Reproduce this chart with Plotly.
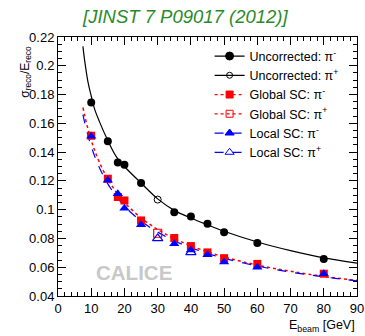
import plotly.graph_objects as go

# ---- data points ----
E_pts = [10, 15, 18, 20, 25, 35, 40, 45, 50, 60, 80]
uncorr_minus = [0.1745, 0.1475, 0.1328, 0.1312, 0.1185, 0.0982, 0.0953, 0.0902, 0.0843, 0.0768, 0.0657]
global_minus = [0.1514, 0.1215, 0.1088, 0.1064, 0.0925, 0.0803, 0.0747, 0.0703, 0.0663, 0.0623, 0.0555]
local_minus = [0.1510, 0.1205, 0.1110, 0.1010, 0.0896, 0.0763, 0.0720, 0.0687, 0.0636, 0.0600, 0.0555]

E_plus_unc = [30]
uncorr_plus = [0.1070]
E_plus_glob = [30]
global_plus = [0.0836]
E_plus_loc = [30, 40]
local_plus = [0.0800, 0.0703]

# ---- fit curves ----
E_fit = [7.5, 8, 9, 10, 11, 12.5, 15, 17.5, 20, 25, 30, 35, 40, 45, 50, 60, 70, 80, 90]
fit_uncorr = [0.2135, 0.2040, 0.1890, 0.1790, 0.1700, 0.1610, 0.1480, 0.1370, 0.1300, 0.1185, 0.1075,
              0.0995, 0.0942, 0.0895, 0.0850, 0.0775, 0.0715, 0.0665, 0.0628]
fit_global = [0.1710, 0.1656, 0.1563, 0.1482, 0.1414, 0.1327, 0.1212, 0.1123, 0.1050, 0.0943, 0.0862,
              0.0799, 0.0749, 0.0707, 0.0672, 0.0615, 0.0572, 0.0536, 0.0508]
fit_local = [0.1660, 0.1608, 0.1518, 0.1441, 0.1374, 0.1290, 0.1179, 0.1094, 0.1024, 0.0921, 0.0844,
             0.0784, 0.0736, 0.0696, 0.0662, 0.0608, 0.0566, 0.0533, 0.0505]

legend_names = ["Uncorrected: π<sup>-</sup>", "Uncorrected: π<sup>+</sup>",
                "Global SC: π<sup>-</sup>", "Global SC: π<sup>+</sup>",
                "Local SC: π<sup>-</sup>", "Local SC: π<sup>+</sup>"]

BLACK = "#000000"
RED = "#ff0000"
BLUE = "#0000ff"

fig = go.Figure()

# fit lines
fig.add_trace(go.Scatter(x=E_fit, y=fit_uncorr, mode="lines", line=dict(color=BLACK, width=1.2, shape="spline"),
                         showlegend=False))
fig.add_trace(go.Scatter(x=E_fit, y=fit_global, mode="lines", line=dict(color=RED, width=1.5, dash="dot", shape="spline"),
                         showlegend=False))
fig.add_trace(go.Scatter(x=E_fit, y=fit_local, mode="lines", line=dict(color=BLUE, width=1.2, dash="dash", shape="spline"),
                         showlegend=False))

# markers
fig.add_trace(go.Scatter(x=E_pts, y=uncorr_minus, mode="markers",
                         marker=dict(symbol="circle", size=8, color=BLACK), showlegend=False))
fig.add_trace(go.Scatter(x=E_plus_unc, y=uncorr_plus, mode="markers",
                         marker=dict(symbol="circle-open", size=7, color=BLACK, line=dict(width=1)), showlegend=False))
fig.add_trace(go.Scatter(x=E_plus_glob, y=global_plus, mode="markers",
                         marker=dict(symbol="square-open", size=8, color=RED, line=dict(width=1.2)), showlegend=False))
fig.add_trace(go.Scatter(x=E_pts, y=global_minus, mode="markers",
                         marker=dict(symbol="square", size=8, color=RED), showlegend=False))
fig.add_trace(go.Scatter(x=E_pts, y=local_minus, mode="markers",
                         marker=dict(symbol="triangle-up", size=9, color=BLUE), showlegend=False))
fig.add_trace(go.Scatter(x=E_plus_loc, y=local_plus, mode="markers",
                         marker=dict(symbol="triangle-up-open", size=9, color=BLUE, line=dict(width=1.2)), showlegend=False))

# legend entries
leg_styles = [
    (BLACK, "solid", "circle", 8),
    (BLACK, "solid", "circle-open", 6),
    (RED, "dot", "square", 7),
    (RED, "dot", "square-open", 7),
    (BLUE, "dash", "triangle-up", 8),
    (BLUE, "dash", "triangle-up-open", 8),
]
for name, (col, dash, sym, sz) in zip(legend_names, leg_styles):
    fig.add_trace(go.Scatter(x=[None], y=[None], mode="lines+markers", name=name,
                             line=dict(color=col, dash=dash, width=1.2),
                             marker=dict(symbol=sym, size=sz, color=col, line=dict(width=1, color=col))))

axis_common = dict(
    showgrid=False, zeroline=False, showline=True, linecolor="black", linewidth=1,
    mirror="ticks", ticks="inside", ticklen=8, tickwidth=1, tickcolor="black",
    automargin=False, ticklabeloverflow="allow",
    tickfont=dict(family="Liberation Sans, Arial, sans-serif", size=13, color="black"),
)

fig.update_layout(
    width=365, height=336,
    margin=dict(l=58, r=8, t=37, b=40, autoexpand=False),
    paper_bgcolor="white", plot_bgcolor="white",
    font=dict(family="Liberation Sans, Arial, sans-serif", size=13, color="black"),
    xaxis=dict(range=[0, 90], dtick=10, tick0=0,
               minor=dict(dtick=2, ticklen=4, ticks="inside", tickcolor="black"),
               **axis_common),
    yaxis=dict(range=[0.04, 0.22], dtick=0.02, tick0=0.04, tickformat="~g",
               minor=dict(dtick=0.005, ticklen=4, ticks="inside", tickcolor="black"),
               **axis_common),
    legend=dict(x=0.507, y=0.983, xanchor="left", yanchor="top", bgcolor="rgba(0,0,0,0)",
                font=dict(size=12.5), itemwidth=30, tracegroupgap=0),
    showlegend=True,
    hovermode=False,
)

fig.add_annotation(text="<i>[JINST 7 P09017 (2012)]</i>", xref="paper", yref="paper", x=0.425, y=1.0,
                   yshift=21, showarrow=False, xanchor="center", yanchor="middle",
                   font=dict(family="Liberation Sans, Arial, sans-serif", size=18.5, color="#2a8a2a"))
fig.add_annotation(text="σ<sub>reco</sub>/E<sub>reco</sub>", xref="paper", yref="paper",
                   x=-0.108, y=1.0, yshift=-7, textangle=-90, showarrow=False, xanchor="center", yanchor="top",
                   font=dict(size=12))
fig.add_annotation(text="E<sub>beam</sub> [GeV]", xref="paper", yref="paper",
                   x=1.0, y=0, yshift=-30, showarrow=False, xanchor="right", yanchor="middle",
                   font=dict(size=12.5))
fig.add_annotation(text="<b>CALICE</b>", xref="x", yref="y", x=22.8, y=0.0565, showarrow=False,
                   xanchor="center", yanchor="middle",
                   font=dict(size=20.5, color="#c8c8c8"))

fig.write_html("out.html", config={"displayModeBar": False},
               post_script="document.body.style.margin='0px';document.body.style.overflow='hidden';")
